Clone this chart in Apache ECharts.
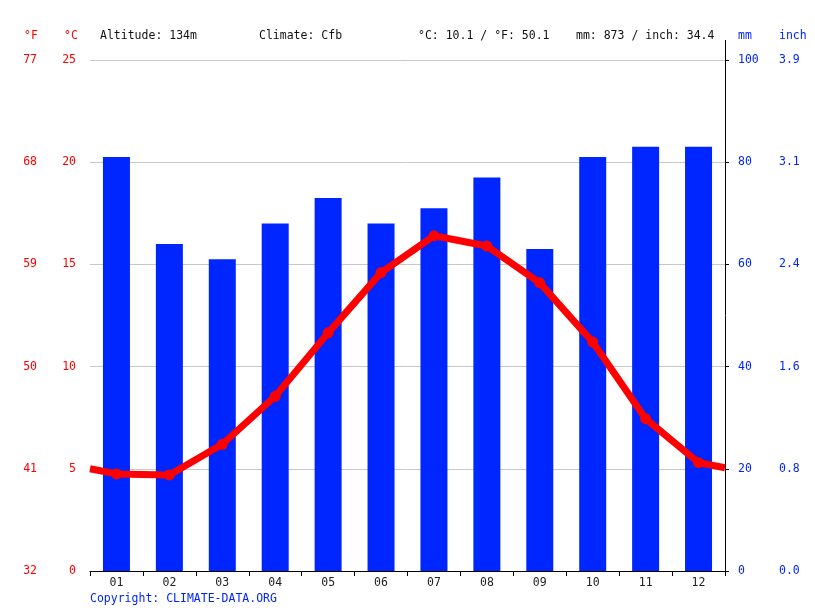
<!DOCTYPE html>
<html>
<head>
<meta charset="utf-8">
<script src="https://cdn.jsdelivr.net/npm/echarts@6/dist/echarts.min.js"></script>
<style>
html,body{margin:0;padding:0;background:#fff;}
#chart{width:815px;height:611px;}
</style>
</head>
<body>
<div id="chart"></div>
<script>
const months = ['01','02','03','04','05','06','07','08','09','10','11','12'];
const precipMm = [81, 64, 61, 68, 73, 68, 71, 77, 63, 81, 83, 83];
const tempC = [4.75, 4.7, 6.2, 8.55, 11.65, 14.6, 16.4, 15.9, 14.1, 11.2, 7.45, 5.3];
const tempEdgeC = [5.0, 5.05]; // line value at the left and right plot edges
const headerTexts = ['Altitude: 134m', 'Climate: Cfb', '°C: 10.1 / °F: 50.1', 'mm: 873 / inch: 34.4'];
const copyright = 'Copyright: CLIMATE-DATA.ORG';

const FONT = '"DejaVu Sans Mono", "Liberation Mono", monospace';
const FS = 11.5;
const RED = '#ff0000';
const BLUE = '#0026ff';

const lineData = [[0, tempEdgeC[0]]];
tempC.forEach((v, i) => lineData.push({ value: [i + 0.5, v], symbol: 'circle' }));
lineData.push([12, tempEdgeC[1]]);

const chart = echarts.init(document.getElementById('chart'), null, { renderer: 'canvas' });
const headerX = [100, 259, 418, 576];
const graphics = headerTexts.map((t, i) => ({
  type: 'text', left: headerX[i], top: 30,
  style: { text: t, font: FS + 'px ' + FONT, fill: '#111' }
}));
graphics.push(
  { type: 'text', left: 24, top: 30, style: { text: '°F', font: FS + 'px ' + FONT, fill: RED } },
  { type: 'text', left: 64, top: 30, style: { text: '°C', font: FS + 'px ' + FONT, fill: RED } },
  { type: 'text', left: 738, top: 30, style: { text: 'mm', font: FS + 'px ' + FONT, fill: BLUE } },
  { type: 'text', left: 779, top: 30, style: { text: 'inch', font: FS + 'px ' + FONT, fill: BLUE } },
  { type: 'text', left: 90, top: 593, style: { text: copyright, font: FS + 'px ' + FONT, fill: BLUE } },
  { type: 'line', shape: { x1: 725.5, y1: 40, x2: 725.5, y2: 60 }, style: { stroke: '#000', lineWidth: 1 } }
);

chart.setOption({
  animation: false,
  backgroundColor: '#fff',
  grid: { left: 90, right: 90, top: 60, bottom: 40, containLabel: false },
  graphic: graphics,
  xAxis: [
    {
      type: 'category', data: months, boundaryGap: true,
      axisLine: { show: true, lineStyle: { color: '#000', width: 1 } },
      axisTick: { show: true, alignWithLabel: false, length: 5, lineStyle: { color: '#000' } },
      axisLabel: { color: '#222', fontFamily: FONT, fontSize: FS, margin: 6 },
      splitLine: { show: false }
    },
    { type: 'value', min: 0, max: 12, show: false }
  ],
  yAxis: [
    {
      type: 'value', position: 'left', min: 0, max: 25, interval: 5,
      axisLine: { show: false }, axisTick: { show: false },
      axisLabel: { color: RED, fontFamily: FONT, fontSize: FS, margin: 14 },
      splitLine: { show: true, lineStyle: { color: '#c8c8c8', width: 1 } }
    },
    {
      type: 'value', position: 'left', offset: 39, min: 0, max: 25, interval: 5,
      axisLine: { show: false }, axisTick: { show: false },
      axisLabel: { color: RED, fontFamily: FONT, fontSize: FS, margin: 14,
        formatter: v => Math.round(v * 9 / 5 + 32) },
      splitLine: { show: false }
    },
    {
      type: 'value', position: 'right', min: 0, max: 100, interval: 20,
      axisLine: { show: true, lineStyle: { color: '#000', width: 1 } },
      axisTick: { show: true, length: 4, lineStyle: { color: '#000' } },
      axisLabel: { color: BLUE, fontFamily: FONT, fontSize: FS, margin: 13 },
      splitLine: { show: false }
    },
    {
      type: 'value', position: 'right', offset: 41, min: 0, max: 100, interval: 20,
      axisLine: { show: false }, axisTick: { show: false },
      axisLabel: { color: BLUE, fontFamily: FONT, fontSize: FS, margin: 13,
        formatter: v => (v / 25.4).toFixed(1) },
      splitLine: { show: false }
    }
  ],
  series: [
    {
      type: 'bar', xAxisIndex: 0, yAxisIndex: 2, data: precipMm,
      barWidth: 27, itemStyle: { color: BLUE }, z: 2
    },
    {
      type: 'line', xAxisIndex: 1, yAxisIndex: 0, data: lineData,
      symbol: 'none', symbolSize: 11,
      lineStyle: { color: RED, width: 7 },
      itemStyle: { color: RED }, z: 3
    }
  ]
});
</script>
</body>
</html>
